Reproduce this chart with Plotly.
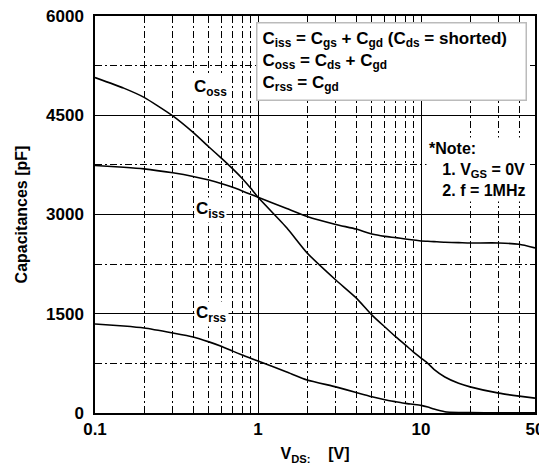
import math
import plotly.graph_objects as go

# Data
vds = [0.1, 0.15, 0.2, 0.3, 0.4, 0.5, 0.6, 0.7, 0.8, 0.9, 1, 1.5, 2, 3, 4, 5, 6, 7, 8, 9, 10, 11, 12, 14, 17, 20, 30, 40, 50]
coss = [5070, 4910, 4770, 4490, 4240, 4020, 3845, 3690, 3545, 3400, 3260, 2800, 2420, 2010, 1740, 1480, 1300, 1150, 1030, 920, 830, 750, 660, 545, 450, 395, 300, 255, 225]
ciss = [3740, 3715, 3690, 3630, 3575, 3520, 3465, 3410, 3355, 3305, 3260, 3090, 2970, 2850, 2780, 2705, 2670, 2650, 2630, 2615, 2600, 2595, 2590, 2580, 2575, 2570, 2570, 2550, 2495]
crss = [1345, 1315, 1285, 1210, 1150, 1075, 1005, 935, 875, 828, 786, 620, 500, 395, 310, 245, 200, 170, 145, 130, 115, 90, 60, 20, 8, 5, 4, 3, 2]

x_ticks = [0.1, 1, 10, 50]
x_minor = [0.2, 0.3, 0.4, 0.5, 0.6, 0.7, 0.8, 0.9, 2, 3, 4, 5, 6, 7, 8, 9, 20, 30, 40]
y_ticks = [0, 1500, 3000, 4500, 6000]
y_minor = [750, 2250, 3750, 5250]

FONT = "Liberation Sans, Arial, sans-serif"
dashdot = "7px,3px,2px,3px"

fig = go.Figure()
for ys in (coss, ciss, crss):
    fig.add_trace(go.Scatter(x=vds, y=ys, mode="lines", line=dict(color="black", width=1.6, shape="spline", smoothing=0.5),
                             showlegend=False, hoverinfo="skip"))

fig.update_xaxes(type="log", range=[-1, 1.69897], tickvals=x_ticks, ticktext=["0.1", "1", "10", "50"],
                 showgrid=True, gridcolor="black", gridwidth=1.3, automargin=False, ticklabeloverflow="allow",
                 minor=dict(tickvals=x_minor, showgrid=True, gridcolor="black", gridwidth=1.2, griddash=dashdot, ticks=""),
                 showline=True, linecolor="black", linewidth=1.5, mirror=True, zeroline=False,
                 ticks="", tickfont=dict(family=FONT, size=17, color="black", weight="bold"),
                 title=dict(text="V<sub>DS:</sub>    [V]", font=dict(family=FONT, size=16, color="black", weight="bold"), standoff=10))
fig.update_yaxes(range=[0, 6000], tickvals=y_ticks, automargin=False, ticklabeloverflow="allow",
                 showgrid=True, gridcolor="black", gridwidth=1.3,
                 minor=dict(tickvals=y_minor, showgrid=True, gridcolor="black", gridwidth=1.2, griddash=dashdot, ticks=""),
                 showline=True, linecolor="black", linewidth=1.5, mirror=True, zeroline=False,
                 ticks="", ticklabelstandoff=6, tickfont=dict(family=FONT, size=17, color="black", weight="bold"),
                 title=dict(text="Capacitances [pF]", font=dict(family=FONT, size=16, color="black", weight="bold"), standoff=14))

lab_font = dict(family=FONT, size=17, color="black", weight="bold")
for txt, xv, yv in [("C<sub>oss</sub>", 0.51, 4910), ("C<sub>iss</sub>", 0.51, 3070), ("C<sub>rss</sub>", 0.52, 1500)]:
    fig.add_annotation(x=math.log10(xv), y=yv, xref="x", yref="y", text=txt, showarrow=False, font=lab_font,
                       bgcolor="white", xanchor="center", yanchor="middle", borderpad=1)

fig.add_annotation(x=0.366, y=0.985, xref="paper", yref="paper", xanchor="left", yanchor="top", align="left",
                   text="C<sub>iss</sub> = C<sub>gs</sub> + C<sub>gd</sub> (C<sub>ds</sub> = shorted)<br>"
                        "C<sub>oss</sub> = C<sub>ds</sub> + C<sub>gd</sub><br>C<sub>rss</sub> = C<sub>gd</sub>",
                   showarrow=False, font=dict(family=FONT, size=17, color="black", weight="bold"),
                   bgcolor="white", bordercolor="#bbbbbb", borderwidth=1.5, borderpad=5, width=258)
fig.add_annotation(x=0.985, y=0.695, xref="paper", yref="paper", xanchor="right", yanchor="top", align="left",
                   text="*Note:<br>   1. V<sub>GS</sub> = 0V<br>   2. f = 1MHz",
                   showarrow=False, font=dict(family=FONT, size=16, color="black", weight="bold"),
                   bgcolor="white", borderpad=2)

fig.update_layout(width=539, height=467, margin=dict(l=87, r=12, t=8, b=62),
                  paper_bgcolor="white", plot_bgcolor="white", showlegend=False)
fig.write_html("out.html")
